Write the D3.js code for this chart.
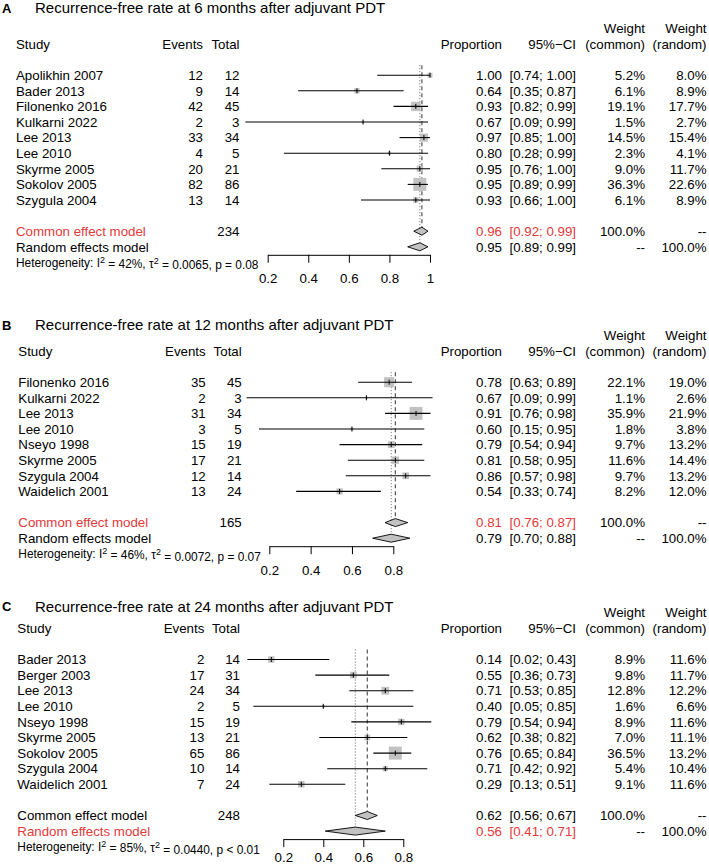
<!DOCTYPE html>
<html><head><meta charset="utf-8">
<script src="https://cdn.jsdelivr.net/npm/d3@7"></script>
<style>
html,body{margin:0;padding:0;background:#fff;}
text{font-family:"Liberation Sans",Arial,Helvetica,sans-serif;fill:#000;}
</style></head>
<body>
<svg id="chart" width="709" height="866"></svg>
<script>
// ---------------- DATA ----------------
const titles = [
  "Recurrence-free rate at 6 months after adjuvant PDT",
  "Recurrence-free rate at 12 months after adjuvant PDT",
  "Recurrence-free rate at 24 months after adjuvant PDT"
];
const panelLetters = ["A", "B", "C"];

// Panel A (6 months)
const studiesA = ["Apolikhin 2007","Bader 2013","Filonenko 2016","Kulkarni 2022","Lee 2013","Lee 2010","Skyrme 2005","Sokolov 2005","Szygula 2004"];
const eventsA  = [12, 9, 42, 2, 33, 4, 20, 82, 13];
const totalsA  = [12, 14, 45, 3, 34, 5, 21, 86, 14];
const propA    = [1.00, 0.64, 0.93, 0.67, 0.97, 0.80, 0.95, 0.95, 0.93];
const lowerA   = [0.74, 0.35, 0.82, 0.09, 0.85, 0.28, 0.76, 0.89, 0.66];
const upperA   = [1.00, 0.87, 0.99, 0.99, 1.00, 0.99, 1.00, 0.99, 1.00];
const wCommonA = [5.2, 6.1, 19.1, 1.5, 14.5, 2.3, 9.0, 36.3, 6.1];
const wRandomA = [8.0, 8.9, 17.7, 2.7, 15.4, 4.1, 11.7, 22.6, 8.9];
const pooledA  = {commonTotal: 234, common: [0.96, 0.92, 0.99], random: [0.95, 0.89, 0.99]};
const hetA     = {I2: "42%", tau2: "0.0065", p: "p = 0.08"};
const ticksA   = [0.2, 0.4, 0.6, 0.8, 1];

// Panel B (12 months)
const studiesB = ["Filonenko 2016","Kulkarni 2022","Lee 2013","Lee 2010","Nseyo 1998","Skyrme 2005","Szygula 2004","Waidelich 2001"];
const eventsB  = [35, 2, 31, 3, 15, 17, 12, 13];
const totalsB  = [45, 3, 34, 5, 19, 21, 14, 24];
const propB    = [0.78, 0.67, 0.91, 0.60, 0.79, 0.81, 0.86, 0.54];
const lowerB   = [0.63, 0.09, 0.76, 0.15, 0.54, 0.58, 0.57, 0.33];
const upperB   = [0.89, 0.99, 0.98, 0.95, 0.94, 0.95, 0.98, 0.74];
const wCommonB = [22.1, 1.1, 35.9, 1.8, 9.7, 11.6, 9.7, 8.2];
const wRandomB = [19.0, 2.6, 21.9, 3.8, 13.2, 14.4, 13.2, 12.0];
const pooledB  = {commonTotal: 165, common: [0.81, 0.76, 0.87], random: [0.79, 0.70, 0.88]};
const hetB     = {I2: "46%", tau2: "0.0072", p: "p = 0.07"};
const ticksB   = [0.2, 0.4, 0.6, 0.8];

// Panel C (24 months)
const studiesC = ["Bader 2013","Berger 2003","Lee 2013","Lee 2010","Nseyo 1998","Skyrme 2005","Sokolov 2005","Szygula 2004","Waidelich 2001"];
const eventsC  = [2, 17, 24, 2, 15, 13, 65, 10, 7];
const totalsC  = [14, 31, 34, 5, 19, 21, 86, 14, 24];
const propC    = [0.14, 0.55, 0.71, 0.40, 0.79, 0.62, 0.76, 0.71, 0.29];
const lowerC   = [0.02, 0.36, 0.53, 0.05, 0.54, 0.38, 0.65, 0.42, 0.13];
const upperC   = [0.43, 0.73, 0.85, 0.85, 0.94, 0.82, 0.84, 0.92, 0.51];
const wCommonC = [8.9, 9.8, 12.8, 1.6, 8.9, 7.0, 36.5, 5.4, 9.1];
const wRandomC = [11.6, 11.7, 12.2, 6.6, 11.6, 11.1, 13.2, 10.4, 11.6];
const pooledC  = {commonTotal: 248, common: [0.62, 0.56, 0.67], random: [0.56, 0.41, 0.71]};
const hetC     = {I2: "85%", tau2: "0.0440", p: "p < 0.01"};
const ticksC   = [0.2, 0.4, 0.6, 0.8];

// ---------------- LAYOUT / STYLE ----------------
const RED = "#e23a3a";
const STEP = 15.6;
const FS = 13.3;
const layouts = [
  {titleY: 8,     headerY: 44,    xStudy: 16,   xEvents: 203,   xTotal: 239.5, domain: [0.2, 1],   range: [267.7, 430],   highlight: "common", labelPad: 11},
  {titleY: 325,   headerY: 351,   xStudy: 18.3, xEvents: 205.7, xTotal: 241.7, domain: [0.2, 0.8], range: [269.3, 393.3], highlight: "common", labelPad: 11},
  {titleY: 606.7, headerY: 628.3, xStudy: 17.3, xEvents: 204.3, xTotal: 240,   domain: [0.2, 0.8], range: [283.3, 403.3], highlight: "random", labelPad: 5}
];
const colX = {prop: 502, ci: 576, wc: 645, wr: 706.5};

const panels = [
  {studies: studiesA, events: eventsA, totals: totalsA, prop: propA, lower: lowerA, upper: upperA, wc: wCommonA, wr: wRandomA, pooled: pooledA, het: hetA, ticks: ticksA},
  {studies: studiesB, events: eventsB, totals: totalsB, prop: propB, lower: lowerB, upper: upperB, wc: wCommonB, wr: wRandomB, pooled: pooledB, het: hetB, ticks: ticksB},
  {studies: studiesC, events: eventsC, totals: totalsC, prop: propC, lower: lowerC, upper: upperC, wc: wCommonC, wr: wRandomC, pooled: pooledC, het: hetC, ticks: ticksC}
];

const svg = d3.select("#chart");
svg.append("rect").attr("width", 709).attr("height", 866).attr("fill", "#fff");

const f2 = d3.format(".2f");
const f1 = d3.format(".1f");

function txt(g, x, y, s, anchor, opts = {}) {
  return g.append("text")
    .attr("x", x).attr("y", y).attr("dy", "0.36em")
    .attr("text-anchor", anchor || "start")
    .attr("font-size", opts.size || FS)
    .attr("font-weight", opts.weight || "normal")
    .style("fill", opts.color || "#000")
    .text(s);
}

panels.forEach((P, pi) => {
  const L = layouts[pi];
  const g = svg.append("g");
  const n = P.studies.length;
  const rowY = i => L.headerY + (i + 2) * STEP;
  const yCommon = L.headerY + (n + 3) * STEP;
  const yRandom = L.headerY + (n + 4) * STEP;
  const yHet = L.headerY + (n + 5) * STEP;
  const x = d3.scaleLinear().domain(L.domain).range(L.range);

  // Title
  txt(g, 2, L.titleY, panelLetters[pi], "start", {size: 13, weight: "bold"});
  txt(g, 35, L.titleY, titles[pi], "start", {size: 15});

  // Headers
  txt(g, L.xStudy, L.headerY, "Study", "start");
  txt(g, L.xEvents, L.headerY, "Events", "end");
  txt(g, L.xTotal, L.headerY, "Total", "end");
  txt(g, colX.prop, L.headerY, "Proportion", "end");
  txt(g, colX.ci, L.headerY, "95%\u2212CI", "end");
  txt(g, colX.wc, L.headerY - STEP, "Weight", "end");
  txt(g, colX.wc, L.headerY, "(common)", "end");
  txt(g, colX.wr, L.headerY - STEP, "Weight", "end");
  txt(g, colX.wr, L.headerY, "(random)", "end");

  // Reference lines
  const topY = rowY(0) - 10;
  g.append("line").attr("x1", x(P.pooled.common[0])).attr("x2", x(P.pooled.common[0]))
    .attr("y1", topY).attr("y2", yCommon)
    .attr("stroke", "#555").attr("stroke-width", 1.2).attr("stroke-dasharray", "4,3");
  g.append("line").attr("x1", x(P.pooled.random[0])).attr("x2", x(P.pooled.random[0]))
    .attr("y1", topY).attr("y2", yRandom)
    .attr("stroke", "#666").attr("stroke-width", 1).attr("stroke-dasharray", "1,2");

  // Study rows
  P.studies.forEach((s, i) => {
    const y = rowY(i);
    txt(g, L.xStudy, y, s, "start");
    txt(g, L.xEvents, y, String(P.events[i]), "end");
    txt(g, L.xTotal, y, String(P.totals[i]), "end");
    txt(g, colX.prop, y, f2(P.prop[i]), "end");
    txt(g, colX.ci, y, "[" + f2(P.lower[i]) + "; " + f2(P.upper[i]) + "]", "end");
    txt(g, colX.wc, y, f1(P.wc[i]) + "%", "end");
    txt(g, colX.wr, y, f1(P.wr[i]) + "%", "end");

    const side = 21.5 * Math.sqrt(P.wc[i] / 100);
    g.append("rect")
      .attr("x", x(P.prop[i]) - side / 2).attr("y", y - side / 2)
      .attr("width", side).attr("height", side)
      .attr("fill", "#c2c2c2");
    g.append("line").attr("x1", x(P.lower[i])).attr("x2", x(P.upper[i]))
      .attr("y1", y).attr("y2", y).attr("stroke", "#000").attr("stroke-width", 1.1);
    g.append("line").attr("x1", x(P.prop[i])).attr("x2", x(P.prop[i]))
      .attr("y1", y - 2.5).attr("y2", y + 2.5).attr("stroke", "#000").attr("stroke-width", 1);
  });

  // Pooled rows
  const models = [
    {key: "common", label: "Common effect model", y: yCommon, v: P.pooled.common, wc: "100.0%", wr: "--"},
    {key: "random", label: "Random effects model", y: yRandom, v: P.pooled.random, wc: "--", wr: "100.0%"}
  ];
  models.forEach(m => {
    const col = (L.highlight === m.key) ? RED : "#000";
    txt(g, L.xStudy, m.y, m.label, "start", {color: col});
    if (m.key === "common") txt(g, L.xTotal, m.y, String(P.pooled.commonTotal), "end");
    txt(g, colX.prop, m.y, f2(m.v[0]), "end", {color: col});
    txt(g, colX.ci, m.y, "[" + f2(m.v[1]) + "; " + f2(m.v[2]) + "]", "end", {color: col});
    txt(g, colX.wc, m.y, m.wc, "end");
    txt(g, colX.wr, m.y, m.wr, "end");
    const h = 4;
    const pts = [[x(m.v[1]), m.y], [x(m.v[0]), m.y - h], [x(m.v[2]), m.y], [x(m.v[0]), m.y + h]];
    g.append("polygon").attr("points", pts.map(p => p.join(",")).join(" "))
      .attr("fill", "#c2c2c2").attr("stroke", "#000").attr("stroke-width", 0.9);
  });

  // Heterogeneity
  const ht = g.append("text").attr("x", L.xStudy).attr("y", yHet).attr("dy", "0.36em")
    .attr("font-size", 11.9);
  ht.append("tspan").text("Heterogeneity: I");
  ht.append("tspan").attr("dy", "-0.45em").attr("font-size", 9).text("2");
  ht.append("tspan").attr("dy", "0.45em").text(" = " + P.het.I2 + ", \u03c4");
  ht.append("tspan").attr("dy", "-0.45em").attr("font-size", 9).text("2");
  ht.append("tspan").attr("dy", "0.45em").text(" = " + P.het.tau2 + ", " + P.het.p);

  // Axis
  const axis = d3.axisBottom(x).tickValues(P.ticks).tickSize(8).tickSizeOuter(0)
    .tickPadding(L.labelPad).tickFormat(d3.format("~g"));
  const ag = g.append("g").attr("transform", `translate(0,${yRandom + 8})`).call(axis);
  ag.selectAll("text").attr("font-size", FS)
    .style("font-family", '"Liberation Sans",Arial,Helvetica,sans-serif').style("fill", "#000");
  ag.selectAll("path,line").attr("stroke", "#000");
});
</script>
</body></html>
